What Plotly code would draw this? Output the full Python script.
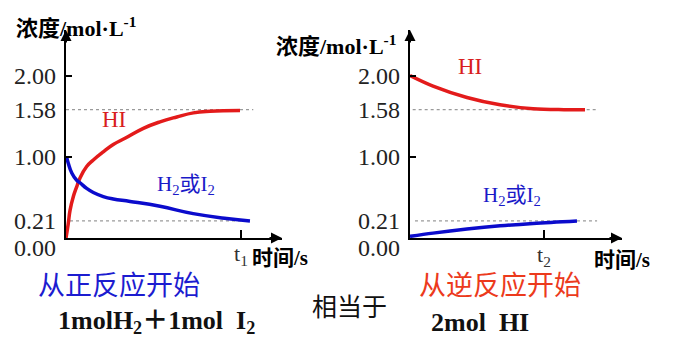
import plotly.graph_objects as go

W, H = 673, 352

# ---------------- data ----------------
# left chart: start from H2 + I2 (t1 = 10)
t_hi_fwd = [0, 0.13, 0.23, 0.42, 0.61, 0.80, 1.18, 1.56, 2.13, 2.70, 3.40, 4.42, 5.37, 6.33, 7.28, 8.23, 9.94]
c_hi_fwd = [0, 0.18, 0.34, 0.51, 0.63, 0.74, 0.88, 0.96, 1.06, 1.15, 1.23, 1.35, 1.43, 1.49, 1.54, 1.56, 1.57]
t_h2_fwd = [0.03, 0.13, 0.33, 0.61, 0.80, 1.18, 1.56, 2.13, 2.70, 3.66, 5.37, 7.27, 9.18, 10.51]
c_h2_fwd = [1.00, 0.92, 0.80, 0.71, 0.68, 0.61, 0.56, 0.51, 0.48, 0.45, 0.39, 0.30, 0.24, 0.21]

# right chart: start from HI (t2 = 10)
t_hi_rev = [0, 1.72, 4.25, 6.72, 9.18, 11.5, 13.06]
c_hi_rev = [2.00, 1.87, 1.73, 1.64, 1.59, 1.58, 1.58]
t_h2_rev = [0, 1.72, 4.25, 6.72, 9.18, 12.46]
c_h2_rev = [0.02, 0.06, 0.11, 0.15, 0.18, 0.21]

tick_values = [2.00, 1.58, 1.00, 0.21, 0.00]
tick_labels = ["2.00", "1.58", "1.00", "0.21", "0.00"]
eq_levels = [1.58, 0.21]
guide_left_x = [[0.0, 10.7], [0.23, 10.4]]
guide_right_x = [[0.2, 13.96], [0.37, 13.96]]
t_mark = 10
y_max = 2.56
x_max_left = 12.34
x_max_right = 15.82

RED = "#e31b1b"
BLUE = "#0b0bcc"
SERIF = "Liberation Serif, Times New Roman, Noto Sans CJK SC, serif"
CJK = "Noto Sans CJK SC, sans-serif"


def px(x):
    return x / W


def py(y):
    return 1 - y / H


fig = go.Figure()

# guides (dotted)
for lvl, gx in zip(eq_levels, guide_left_x):
    fig.add_trace(go.Scatter(x=gx, y=[lvl, lvl], mode="lines", xaxis="x", yaxis="y",
                             line=dict(color="#9a9a9a", width=1.2, dash="dot"), hoverinfo="skip"))
for lvl, gx in zip(eq_levels, guide_right_x):
    fig.add_trace(go.Scatter(x=gx, y=[lvl, lvl], mode="lines", xaxis="x2", yaxis="y2",
                             line=dict(color="#9a9a9a", width=1.2, dash="dot"), hoverinfo="skip"))

# curves
fig.add_trace(go.Scatter(x=t_hi_fwd, y=c_hi_fwd, mode="lines", xaxis="x", yaxis="y",
                         line=dict(color=RED, width=3.5, shape="spline", smoothing=1.3)))
fig.add_trace(go.Scatter(x=t_h2_fwd, y=c_h2_fwd, mode="lines", xaxis="x", yaxis="y",
                         line=dict(color=BLUE, width=3.5, shape="spline", smoothing=1.3)))
fig.add_trace(go.Scatter(x=t_hi_rev, y=c_hi_rev, mode="lines", xaxis="x2", yaxis="y2",
                         line=dict(color=RED, width=3.5, shape="spline", smoothing=1.0)))
fig.add_trace(go.Scatter(x=t_h2_rev, y=c_h2_rev, mode="lines", xaxis="x2", yaxis="y2",
                         line=dict(color=BLUE, width=3.5, shape="spline", smoothing=1.0)))

axis_common = dict(showgrid=False, zeroline=False, showline=True, linecolor="black",
                   linewidth=2, ticks="inside", tickcolor="black", tickwidth=1.5,
                   showticklabels=False)

y_dom = [py(238), py(30)]
fig.update_layout(
    width=W, height=H, margin=dict(l=0, r=0, t=0, b=0),
    paper_bgcolor="white", plot_bgcolor="rgba(0,0,0,0)", showlegend=False,
    xaxis=dict(domain=[px(66), px(282)], range=[0, x_max_left], anchor="y",
               tickvals=[t_mark], ticklen=8, **axis_common),
    yaxis=dict(domain=y_dom, range=[0, y_max], anchor="x",
               tickvals=[1.00, 2.00], ticklen=6, **axis_common),
    xaxis2=dict(domain=[px(410), px(622)], range=[0, x_max_right], anchor="y2",
                tickvals=[t_mark], ticklen=8, **axis_common),
    yaxis2=dict(domain=y_dom, range=[0, y_max], anchor="x2",
                tickvals=[1.00, 2.00], ticklen=6, **axis_common),
)

ann = []
# arrowheads
for xr, yr, xm in [("x", "y", x_max_left), ("x2", "y2", x_max_right)]:
    ann.append(dict(x=xm, y=0, xref=xr, yref=yr, ax=-14, ay=0, text="", showarrow=True,
                    arrowhead=2, arrowsize=1.1, arrowwidth=2, arrowcolor="black"))
    ann.append(dict(x=0, y=y_max, xref=xr, yref=yr, ax=0, ay=14, text="", showarrow=True,
                    arrowhead=2, arrowsize=1.1, arrowwidth=2, arrowcolor="black"))

# tick labels
for xr, yr in [("x", "y"), ("x2", "y2")]:
    for v, lab in zip(tick_values, tick_labels):
        ann.append(dict(x=0, y=v, xref=xr, yref=yr, text=lab, showarrow=False,
                        xanchor="right", yanchor="middle", xshift=-8,
                        yshift=-10 if v == 0 else 0,
                        font=dict(family=SERIF, size=24, color="#222")))


def text_at(x, y, text, font, xanchor="center"):
    ann.append(dict(x=px(x), y=py(y), xref="paper", yref="paper", xanchor=xanchor,
                    yanchor="middle", text=text, showarrow=False, font=font))


# y titles
text_at(14, 27, "<b>浓度/mol·L<sup>-1</sup></b>", dict(family=SERIF, size=22, color="black"), "left")
text_at(274, 45, "<b>浓度/mol·L<sup>-1</sup></b>", dict(family=SERIF, size=22, color="black"), "left")

# t labels and time titles
ann.append(dict(x=t_mark, y=0, xref="x", yref="y", text="t<sub>1</sub>", showarrow=False,
                xanchor="center", yanchor="top", yshift=-1,
                font=dict(family=SERIF, size=22, color="#333")))
ann.append(dict(x=t_mark, y=0, xref="x2", yref="y2", text="t<sub>2</sub>", showarrow=False,
                xanchor="center", yanchor="top", yshift=-2,
                font=dict(family=SERIF, size=22, color="#333")))
text_at(250, 258, "<b>时间/s</b>", dict(family=SERIF, size=21, color="black"), "left")
text_at(592, 260, "<b>时间/s</b>", dict(family=SERIF, size=21, color="black"), "left")

# curve labels
text_at(114, 120, "HI", dict(family=SERIF, size=23, color="#d81e1e"))
text_at(470, 66, "HI", dict(family=SERIF, size=23, color="#d81e1e"))
text_at(186, 185, "H<sub>2</sub>或I<sub>2</sub>", dict(family=SERIF, size=21, color="#1a1ac8"))
text_at(512, 196, "H<sub>2</sub>或I<sub>2</sub>", dict(family=SERIF, size=21, color="#1a1ac8"))

# bottom texts
text_at(119, 283, "从正反应开始", dict(family=CJK, size=27, color="#1c1cd0"))
text_at(500, 283, "从逆反应开始", dict(family=CJK, size=27, color="#ec3a1c"))
text_at(349, 305, "相当于", dict(family=CJK, size=25, color="#111"))
text_at(156, 322, "<b>1molH<sub>2</sub>＋1mol\u00a0\u00a0I<sub>2</sub></b>",
        dict(family=SERIF, size=26, color="#111"))
text_at(480, 322, "<b>2mol\u00a0\u00a0HI</b>", dict(family=SERIF, size=26, color="#111"))

fig.update_layout(annotations=ann)
fig.write_html("out.html")
